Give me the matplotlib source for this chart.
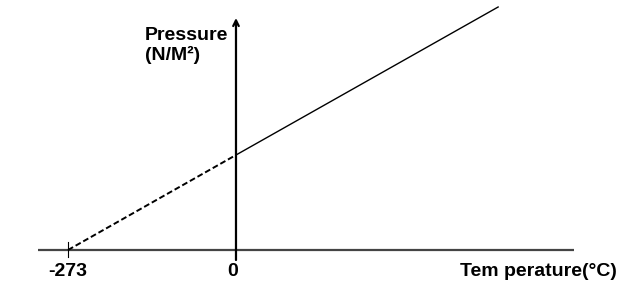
import matplotlib
matplotlib.use("Agg")
import matplotlib.pyplot as plt

# Gas pressure vs temperature (pressure law), extrapolated to absolute zero
temp_dashed = [-273, 0]        # extrapolated part (deg C)
press_dashed = [0, 95]         # arbitrary pressure units
temp_solid = [0, 426]          # measured part
press_solid = [95, 243]
tick_labels = ["-273", "0"]
tick_pos = [-273, 0]

plt.rcParams["font.family"] = ["Liberation Sans", "DejaVu Sans"]

fig = plt.figure(figsize=(6.34, 2.93), dpi=100)
ax = fig.add_axes([0, 0, 1, 1])
ax.set_xlim(-383.5, 646.8)
ax.set_ylim(-43, 250)
ax.axis("off")

# axes drawn by hand, like a textbook sketch
ax.plot([-322, 549], [0, 0], color="#444444", lw=1.6, solid_capstyle="butt")
ax.annotate("", xy=(0, 232), xytext=(0, -10),
            arrowprops=dict(arrowstyle="->", color="black", lw=1.6,
                            shrinkA=0, shrinkB=0, mutation_scale=10))
ax.plot([-273, -273], [8, -7], color="black", lw=0.8)

# the line itself
ax.plot(temp_dashed, press_dashed, color="black", lw=1.4, ls=(0, (3, 1.5)))
ax.plot(temp_solid, press_solid, color="black", lw=1.0)

fs = 14
for x, lab in zip(tick_pos, tick_labels):
    ax.text(x - (6 if x == 0 else 0), -21, lab, ha="center", va="center",
            fontsize=fs, fontweight="bold")

ax.text(-148, 223, "Pressure\n(N/M²)", ha="left", va="top",
        fontsize=fs, fontweight="bold", linespacing=1.15)
ax.text(364, -21, "Tem perature(°C)", ha="left", va="center",
        fontsize=fs, fontweight="bold")

fig.savefig("out.png", dpi=100)
